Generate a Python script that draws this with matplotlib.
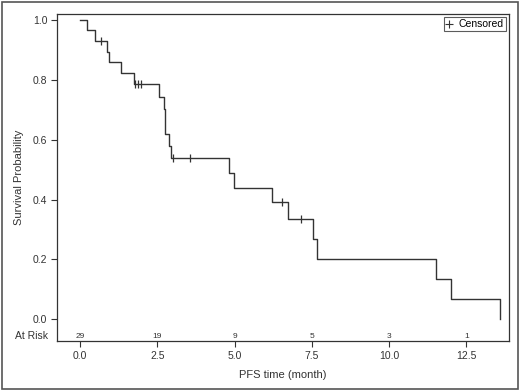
import matplotlib
matplotlib.use('Agg')
import matplotlib.pyplot as plt
from matplotlib.patches import Rectangle
import numpy as np

# Kaplan-Meier steps
step_times = [0.0, 0.24, 0.49, 0.88, 0.93, 1.32, 1.75, 2.55, 2.72, 2.75, 2.89, 2.94,
              4.83, 4.97, 6.22, 6.73, 7.54, 7.67, 11.5, 12.0, 13.59]
step_surv = [1.0, 0.966, 0.931, 0.895, 0.859, 0.823, 0.787, 0.745, 0.704, 0.621, 0.580, 0.538,
             0.489, 0.440, 0.391, 0.335, 0.268, 0.201, 0.134, 0.067, 0.0]
censor_times = [0.68, 1.78, 1.87, 1.97, 3.02, 3.56, 6.53, 7.14]

risk_times = [0.0, 2.5, 5.0, 7.5, 10.0, 12.5]
risk_counts = [29, 19, 9, 5, 3, 1]

plt.rcParams['font.family'] = ['Liberation Sans', 'DejaVu Sans']
col = '#333333'

fig = plt.figure(figsize=(5.2, 3.91), dpi=100)
ax = fig.add_axes([0.1096, 0.1279, 0.8694, 0.8363])

ax.step(step_times, step_surv, where='post', color=col, lw=1.0)

# censor marks sit on the curve
idx = np.searchsorted(step_times, censor_times, side='right') - 1
cens_y = [step_surv[i] for i in idx]
ax.plot(censor_times, cens_y, '|', color=col, ms=6, mew=0.9)

for t, n in zip(risk_times, risk_counts):
    ax.text(t, -0.056, str(n), ha='center', va='center', fontsize=6, color=col)
ax.text(-0.02, -0.056, 'At Risk', ha='right', va='center', fontsize=7.5,
        color=col, transform=ax.get_yaxis_transform())

ax.set_xlim(-0.744, 13.88)
ax.set_ylim(-0.0726, 1.021)
ax.set_xticks(risk_times)
ax.set_xticklabels(['0.0', '2.5', '5.0', '7.5', '10.0', '12.5'])
ax.set_yticks([0.0, 0.2, 0.4, 0.6, 0.8, 1.0])
ax.set_yticklabels(['0.0', '0.2', '0.4', '0.6', '0.8', '1.0'])
ax.tick_params(labelsize=7.5, colors=col, length=4, width=0.8, direction='out', pad=3)
for s in ax.spines.values():
    s.set_color(col)
    s.set_linewidth(0.9)

ax.set_xlabel('PFS time (month)', fontsize=8, color=col, labelpad=7)
ax.set_ylabel('Survival Probability', fontsize=8, color=col, labelpad=6)

leg = ax.legend([plt.Line2D([], [], marker='+', ls='none', color=col, ms=6, mew=0.8)],
                ['Censored'], loc='upper right', fontsize=7.5, frameon=True,
                handlelength=0.6, handletextpad=0.6, borderpad=0.2,
                borderaxespad=0.3, fancybox=False)
leg.get_frame().set_edgecolor(col)
leg.get_frame().set_linewidth(0.8)

# outer frame around the whole picture
fig.patches.append(Rectangle((0.004, 0.005), 0.992, 0.99, transform=fig.transFigure,
                             fill=False, edgecolor='#555555', lw=1.2))

fig.savefig('out.png', dpi=100)
